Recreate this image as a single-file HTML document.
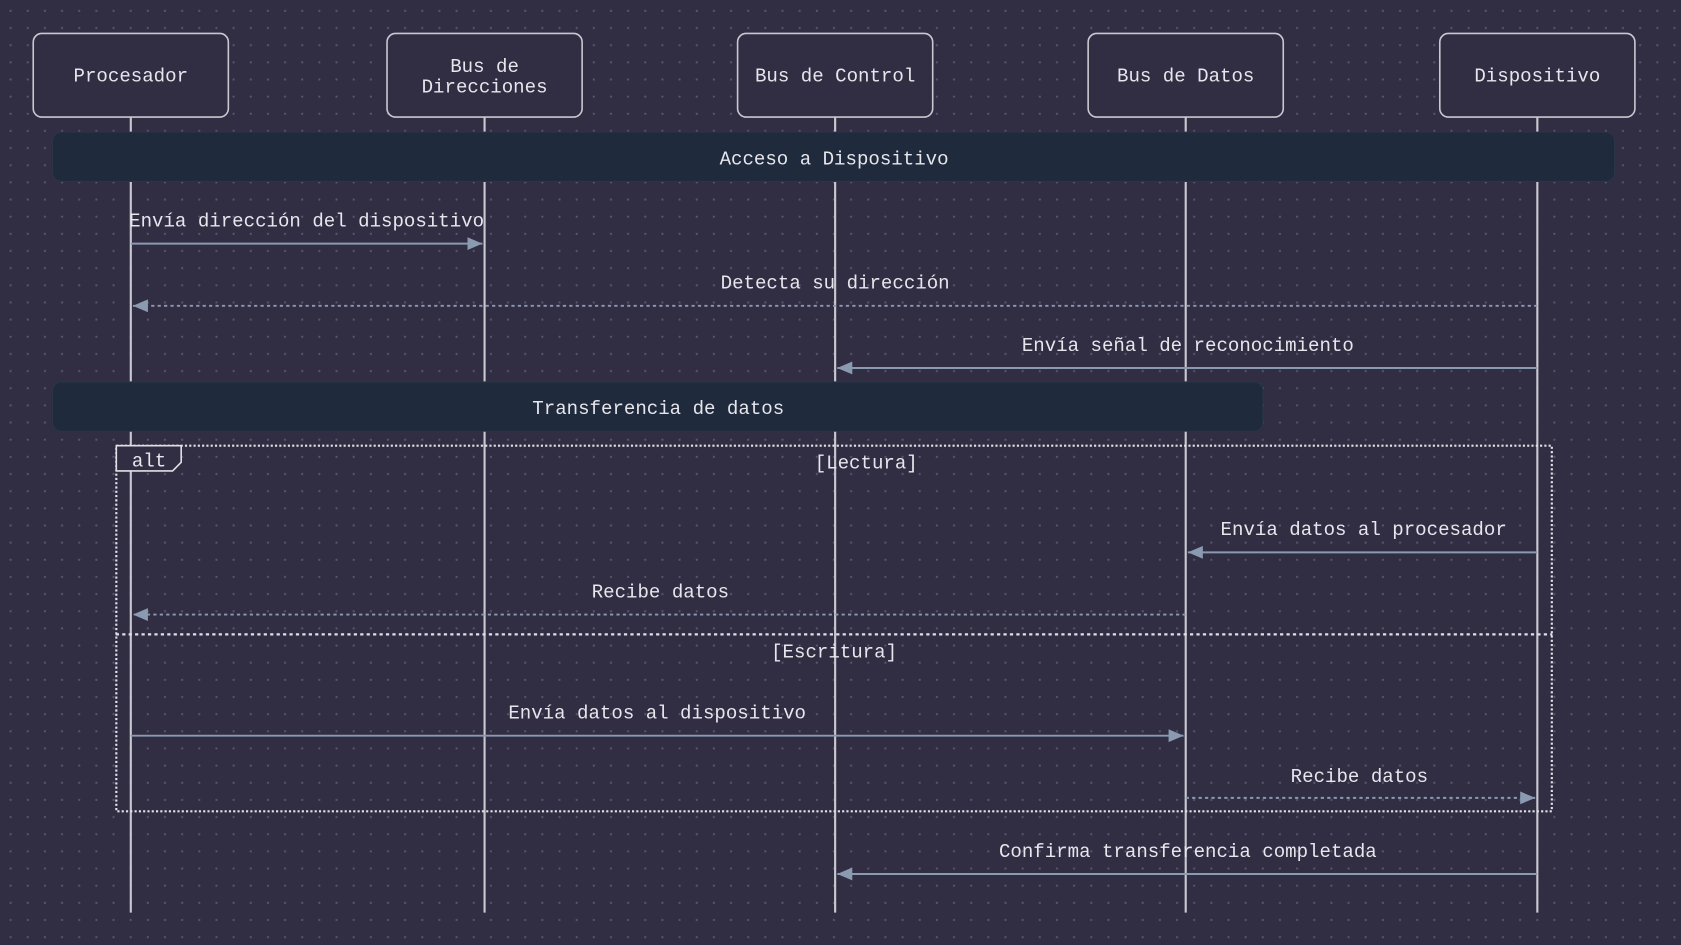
<!DOCTYPE html>
<html><head><meta charset="utf-8"><style>
html,body{margin:0;padding:0;background:#312d43;}
svg{display:block}
text{font-family:"Liberation Mono","DejaVu Sans Mono",monospace;font-size:17.8px;fill:#e6e6ec;}
</style></head><body>
<svg width="1681" height="945" viewBox="0 0 1568 881" xmlns="http://www.w3.org/2000/svg">
<defs>
<pattern id="dots" width="16" height="16" patternUnits="userSpaceOnUse"><rect x="9" y="9" width="1.8" height="1.8" fill="#5a5770"/></pattern>
<marker id="ah" markerWidth="14" markerHeight="12" refX="14" refY="6" orient="auto" markerUnits="userSpaceOnUse"><path d="M0,0 L14,6 L0,12 z" fill="#8a9ab0"/></marker>
</defs>
<rect width="1568" height="881" fill="#312d43"/>
<rect width="1568" height="881" fill="url(#dots)"/>
<g stroke="#c8c8d0" stroke-width="2">
<line x1="122" y1="109" x2="122" y2="851"/>
<line x1="452" y1="109" x2="452" y2="851"/>
<line x1="779" y1="109" x2="779" y2="851"/>
<line x1="1106" y1="109" x2="1106" y2="851"/>
<line x1="1434" y1="109" x2="1434" y2="851"/>
</g>
<g fill="#312d43" stroke="#c8c8d0" stroke-width="1.5">
<rect x="31" y="31" width="182" height="78" rx="8"/>
<rect x="361" y="31" width="182" height="78" rx="8"/>
<rect x="688" y="31" width="182" height="78" rx="8"/>
<rect x="1015" y="31" width="182" height="78" rx="8"/>
<rect x="1343" y="31" width="182" height="78" rx="8"/>
</g>
<g text-anchor="middle">
<text x="122" y="76">Procesador</text>
<text x="452" y="67">Bus de</text>
<text x="452" y="86">Direcciones</text>
<text x="779" y="76">Bus de Control</text>
<text x="1106" y="76">Bus de Datos</text>
<text x="1434" y="76">Dispositivo</text>
</g>
<rect x="49" y="123" width="1457" height="46" rx="8" fill="#1f2a3c" stroke="#2a3547"/>
<text x="778" y="153" text-anchor="middle">Acceso a Dispositivo</text>
<rect x="49" y="356" width="1129" height="46" rx="8" fill="#1f2a3c" stroke="#2a3547"/>
<text x="614" y="386" text-anchor="middle">Transferencia de datos</text>
<rect x="108.5" y="415.5" width="1339" height="341" fill="none" stroke="#e0e0e8" stroke-width="2" stroke-dasharray="2,2"/>
<line x1="108" y1="591.5" x2="1448" y2="591.5" stroke="#e0e0e8" stroke-width="2" stroke-dasharray="3,3"/>
<path d="M108.5,415.5 H169 V431 L161,439 H108.5 z" fill="#312d43" stroke="#e0e0e8" stroke-width="1.5"/>
<text x="139" y="435" text-anchor="middle">alt</text>
<text x="808" y="437" text-anchor="middle">[Lectura]</text>
<text x="778" y="613" text-anchor="middle">[Escritura]</text>
<g stroke="#8a9ab0" stroke-width="1.8" fill="none">
<line x1="122" y1="227" x2="450" y2="227" marker-end="url(#ah)"/>
<line x1="1434" y1="285" x2="124" y2="285" stroke-dasharray="3,3" marker-end="url(#ah)"/>
<line x1="1434" y1="343" x2="781" y2="343" marker-end="url(#ah)"/>
<line x1="1434" y1="515" x2="1108" y2="515" marker-end="url(#ah)"/>
<line x1="1106" y1="573" x2="124" y2="573" stroke-dasharray="3,3" marker-end="url(#ah)"/>
<line x1="122" y1="686" x2="1104" y2="686" marker-end="url(#ah)"/>
<line x1="1106" y1="744" x2="1432" y2="744" stroke-dasharray="3,3" marker-end="url(#ah)"/>
<line x1="1434" y1="815" x2="781" y2="815" marker-end="url(#ah)"/>
</g>
<g text-anchor="middle">
<text x="286" y="211">Envía dirección del dispositivo</text>
<text x="779" y="269">Detecta su dirección</text>
<text x="1108" y="327">Envía señal de reconocimiento</text>
<text x="1272" y="499">Envía datos al procesador</text>
<text x="616" y="557">Recibe datos</text>
<text x="613" y="670">Envía datos al dispositivo</text>
<text x="1268" y="729">Recibe datos</text>
<text x="1108" y="799">Confirma transferencia completada</text>
</g>
</svg>
</body></html>
